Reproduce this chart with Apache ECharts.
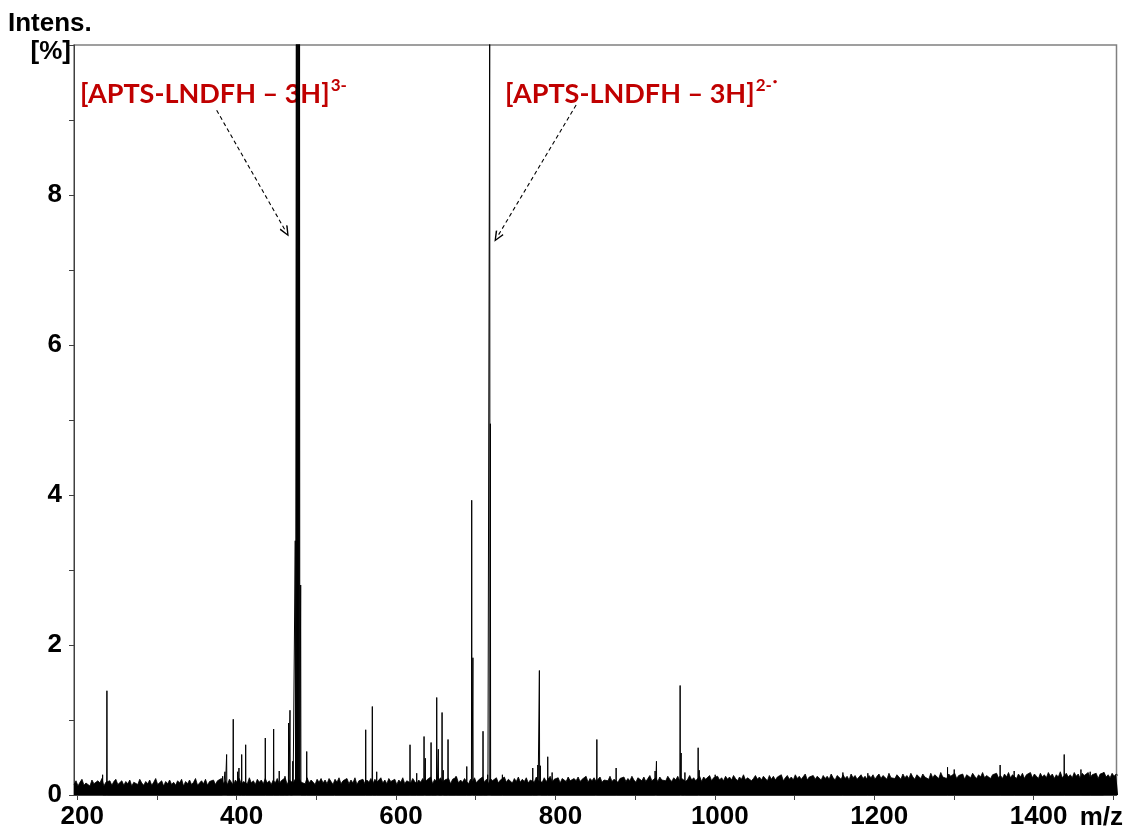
<!DOCTYPE html>
<html>
<head>
<meta charset="utf-8">
<title>Mass spectrum – APTS-LNDFH</title>
<script src="https://cdn.jsdelivr.net/npm/echarts@6/dist/echarts.min.js"></script>
<style>
  html, body { margin: 0; padding: 0; background: #ffffff; }
  #chart { width: 1125px; height: 830px; }
</style>
</head>
<body>
<div id="chart"></div>
<script>
// ---- axis settings ----
const mzMin = 196;
const mzMax = 1504;
const mzTickValues = [200, 300, 400, 500, 600, 700, 800, 900, 1000, 1100, 1200, 1300, 1400, 1500];
const mzLabelValues = [200, 400, 600, 800, 1000, 1200, 1400];
const intensityLabelValues = [0, 2, 4, 6, 8];

// ---- baseline noise envelope (% intensity), sampled every 2.5 m/z from 196 ----
const noiseStartMz = 196;
const noiseStepMz = 2.5;
const noiseLevel = [
  0.14,0.19,0.12,0.17,0.21,0.13,0.16,0.18,0.12,0.20,0.15,0.13,0.19,0.16,0.22,0.12,0.17,0.15,0.19,0.13,0.18,0.21,0.14,0.16,0.19,
  0.13,0.18,0.15,0.20,0.12,0.17,0.19,0.14,0.21,0.16,0.13,0.18,0.15,0.20,0.13,0.17,0.22,0.14,0.16,0.19,0.12,0.18,0.15,0.20,0.14,
  0.17,0.13,0.19,0.16,0.21,0.12,0.18,0.15,0.20,0.14,0.17,0.22,0.13,0.16,0.19,0.15,0.21,0.13,0.18,0.16,0.20,0.14,0.19,0.17,0.22,
  0.15,0.19,0.14,0.21,0.17,0.13,0.20,0.16,0.22,0.14,0.18,0.20,0.15,0.23,0.16,0.19,0.14,0.21,0.17,0.20,0.15,0.22,0.16,0.19,0.14,
  0.20,0.16,0.22,0.15,0.19,0.17,0.23,0.14,0.20,0.18,0.16,0.21,0.15,0.22,0.17,0.19,0.15,0.23,0.16,0.20,0.18,0.14,0.21,0.17,0.22,
  0.16,0.20,0.15,0.22,0.18,0.14,0.21,0.17,0.23,0.15,0.19,0.17,0.22,0.15,0.20,0.16,0.23,0.14,0.19,0.18,0.21,0.15,0.20,0.17,0.22,
  0.15,0.21,0.17,0.19,0.23,0.16,0.20,0.15,0.22,0.18,0.16,0.21,0.14,0.20,0.17,0.23,0.15,0.19,0.21,0.16,0.22,0.18,0.15,0.20,0.17,
  0.22,0.16,0.20,0.18,0.24,0.15,0.21,0.17,0.19,0.23,0.16,0.20,0.18,0.22,0.15,0.21,0.19,0.24,0.16,0.20,0.17,0.22,0.18,0.15,0.21,
  0.18,0.23,0.16,0.20,0.19,0.24,0.17,0.21,0.15,0.22,0.19,0.17,0.23,0.16,0.20,0.18,0.24,0.17,0.21,0.19,0.16,0.22,0.18,0.24,0.17,
  0.21,0.18,0.23,0.16,0.20,0.22,0.17,0.24,0.19,0.21,0.17,0.23,0.18,0.20,0.25,0.17,0.21,0.19,0.23,0.16,0.22,0.20,0.18,0.24,0.19,
  0.17,0.22,0.19,0.24,0.18,0.21,0.20,0.25,0.17,0.22,0.19,0.23,0.18,0.21,0.24,0.17,0.20,0.22,0.19,0.25,0.18,0.21,0.23,0.17,0.22,
  0.20,0.24,0.18,0.22,0.19,0.25,0.20,0.17,0.23,0.21,0.19,0.24,0.18,0.22,0.26,0.19,0.21,0.23,0.18,0.24,0.20,0.22,0.19,0.25,0.21,
  0.18,0.23,0.20,0.25,0.19,0.22,0.24,0.18,0.21,0.26,0.20,0.23,0.19,0.22,0.25,0.18,0.24,0.21,0.20,0.26,0.19,0.23,0.21,0.25,0.20,
  0.23,0.19,0.25,0.21,0.24,0.20,0.26,0.22,0.19,0.24,0.21,0.27,0.20,0.23,0.25,0.19,0.22,0.26,0.21,0.24,0.20,0.25,0.22,0.19,0.26,
  0.21,0.25,0.20,0.24,0.22,0.27,0.19,0.23,0.26,0.21,0.24,0.20,0.27,0.22,0.25,0.21,0.23,0.28,0.20,0.24,0.22,0.26,0.21,0.25,0.23,
  0.20,0.26,0.22,0.25,0.21,0.28,0.23,0.20,0.26,0.24,0.21,0.27,0.22,0.25,0.20,0.28,0.23,0.26,0.21,0.24,0.27,0.22,0.25,0.21,0.26,
  0.23,0.27,0.21,0.25,0.28,0.22,0.26,0.24,0.21,0.29,0.23,0.25,0.22,0.27,0.24,0.21,0.28,0.23,0.26,0.22,0.29,0.24,0.21,0.27,0.25,
  0.22,0.28,0.24,0.26,0.21,0.29,0.23,0.27,0.25,0.22,0.30,0.24,0.26,0.22,0.28,0.25,0.23,0.29,0.22,0.26,0.24,0.28,0.21,0.27,0.25,
  0.23,0.29,0.25,0.22,0.27,0.24,0.30,0.23,0.26,0.28,0.22,0.27,0.25,0.29,0.23,0.26,0.22,0.28,0.24,0.30,0.23,0.27,0.25,0.22,0.28,
  0.24,0.29,0.22,0.27,0.25,0.30,0.23,0.28,0.26,0.22,0.29,0.24,0.27,0.23,0.30,0.25,0.28,0.22,0.27,0.24,0.31,0.23,0.26,0.29,0.24,
  0.27,0.23,0.30,0.25,0.28,0.22,0.29,0.26,0.24,0.30,0.23,0.27,0.25,0.29,0.22,0.28,0.26,0.30,0.24,0.27,0.23,0.29,0.25,0.28,0.26
];

// ---- centroid peaks: m/z and relative intensity (%) ----
const peakMz = [
  231.9, 237.3, 382.5, 385.4, 387.5, 395.8, 401.3, 403.0, 406.4, 411.4,
  436.0, 446.5, 453.5, 460.7, 465.3, 467.0, 470.5, 473.6, 475.0, 476.0,
  477.0, 478.0, 479.0, 480.4, 488.0, 562.0, 570.3, 575.8, 617.6, 626.0,
  635.2, 636.8, 644.0, 651.1, 653.1, 657.8, 659.3, 665.3, 675.3, 688.8,
  695.0, 696.5, 709.2, 715.0, 717.6, 718.4, 733.5, 771.6, 777.9, 779.9,
  781.2, 790.4, 795.9, 852.0, 876.2, 925.1, 926.8, 956.5, 957.8, 962.5,
  979.1, 980.5, 1000.5, 1160.7, 1192.0, 1292.0, 1300.4, 1358.0, 1375.6, 1438.4,
  1459.4, 1471.0, 1488.0
];
const peakIntensity = [
  0.27, 1.39, 0.25, 0.31, 0.54, 1.01, 0.31, 0.36, 0.54, 0.67,
  0.76, 0.88, 0.32, 0.25, 0.96, 1.13, 0.45, 3.39, 10.5, 10.5,
  10.5, 10.5, 10.5, 2.80, 0.58, 0.87, 1.18, 0.31, 0.67, 0.29,
  0.78, 0.49, 0.70, 1.30, 0.61, 1.10, 0.33, 0.74, 0.25, 0.38,
  3.93, 1.83, 0.85, 0.27, 10.5, 4.95, 0.27, 0.36, 0.40, 1.66,
  0.39, 0.51, 0.30, 0.74, 0.36, 0.32, 0.45, 1.46, 0.56, 0.30,
  0.63, 0.33, 0.27, 0.30, 0.29, 0.37, 0.34, 0.40, 0.32, 0.54,
  0.34, 0.31, 0.30
];

// ---- ion annotations: label text and arrow (from -> to) in data coordinates ----
const ionLabels = [
  { main: '[APTS-LNDFH – 3H]', charge: '3-', radical: '' },
  { main: '[APTS-LNDFH – 3H]', charge: '2-', radical: '•' }
];
const ionArrows = [
  [[375, 9.13], [462, 7.51]],
  [[826, 9.20], [727, 7.44]]
];

// ---- build series data ----
const noiseData = noiseLevel.map((v, i) => [noiseStartMz + i * noiseStepMz, v]);
const stickData = [];
peakMz.forEach((mz, i) => {
  stickData.push([mz - 0.35, 0]);
  stickData.push([mz, peakIntensity[i]]);
  stickData.push([mz + 0.35, 0]);
});

const FONT = '"Liberation Sans", Arial, Helvetica, sans-serif';
const RED_FONT = 'Lato, "Open Sans", sans-serif';
const RED = '#C00000';

const chart = echarts.init(document.getElementById('chart'), null, { renderer: 'canvas' });

function ionText(lbl) {
  return '{m|' + lbl.main + '}{s|' + lbl.charge + '}' + (lbl.radical ? '{d|' + lbl.radical + '}' : '');
}
const ionRich = {
  m: { fontFamily: RED_FONT, fontWeight: 'bold', fontSize: 27, fill: RED, lineHeight: 34, verticalAlign: 'bottom' },
  s: { fontFamily: RED_FONT, fontWeight: 'bold', fontSize: 17, fill: RED, lineHeight: 34, verticalAlign: 'top', padding: [3, 0, 0, 1] },
  d: { fontFamily: RED_FONT, fontWeight: 'bold', fontSize: 8, fill: RED, lineHeight: 34, verticalAlign: 'top', padding: [3, 0, 0, 1] }
};

const option = {
  animation: false,
  backgroundColor: '#ffffff',
  grid: {
    left: 74, right: 8.5, top: 45, bottom: 35,
    show: true, borderColor: '#808080', borderWidth: 1.5, backgroundColor: 'transparent'
  },
  xAxis: {
    type: 'value',
    min: mzMin, max: mzMax,
    axisLine: { show: true, onZero: false, lineStyle: { color: '#404040', width: 1 } },
    axisTick: { show: true, inside: false, length: 5, customValues: mzTickValues, lineStyle: { color: '#404040', width: 1 } },
    axisLabel: {
      customValues: mzLabelValues,
      formatter: v => String(v),
      margin: 9,
      padding: [0, 0, 0, 10],
      color: '#000', fontFamily: FONT, fontWeight: 'bold', fontSize: 26
    },
    splitLine: { show: false }
  },
  yAxis: {
    type: 'value',
    min: 0, max: 10, interval: 1,
    axisLine: { show: true, lineStyle: { color: '#404040', width: 1 } },
    axisTick: { show: true, inside: false, length: 5, lineStyle: { color: '#404040', width: 1 } },
    axisLabel: {
      margin: 12,
      padding: [6, 0, 0, 0],
      color: '#000', fontFamily: FONT, fontWeight: 'bold', fontSize: 26,
      formatter: v => (intensityLabelValues.indexOf(v) >= 0 ? String(v) : '')
    },
    splitLine: { show: false }
  },
  graphic: [
    { type: 'text', left: 8, top: 11, style: { text: 'Intens.', fill: '#000', font: 'bold 26px ' + FONT } },
    { type: 'text', x: 71, y: 52, style: { text: '[%]', fill: '#000', font: 'bold 26px ' + FONT, align: 'right', verticalAlign: 'middle' } },
    { type: 'text', x: 1123, y: 818, style: { text: 'm/z', fill: '#000', font: 'bold 26px ' + FONT, align: 'right', verticalAlign: 'middle' } },
    { type: 'text', x: 80, y: 74, style: { text: ionText(ionLabels[0]), rich: ionRich } },
    { type: 'text', x: 505, y: 74, style: { text: ionText(ionLabels[1]), rich: ionRich } }
  ],
  series: [
    {
      name: 'baseline',
      type: 'line',
      data: noiseData,
      showSymbol: false,
      symbol: 'none',
      clip: true,
      lineStyle: { color: '#000', width: 0.8 },
      areaStyle: { color: '#000', opacity: 1 },
      silent: true,
      z: 2
    },
    {
      name: 'peaks',
      type: 'line',
      data: stickData,
      showSymbol: false,
      symbol: 'none',
      clip: true,
      lineStyle: { color: '#000', width: 1 },
      silent: true,
      z: 3,
      markLine: {
        silent: true,
        symbol: ['none', 'path://M5,0 L10,10 L8.6,10.9 L5,3.2 L1.4,10.9 L0,10 Z'],
        symbolSize: [9, 11],
        label: { show: false },
        lineStyle: { color: '#000', width: 1.1, type: [4, 3] },
        data: ionArrows.map(a => [{ coord: a[0] }, { coord: a[1] }])
      }
    }
  ]
};

chart.setOption(option);
</script>
</body>
</html>
